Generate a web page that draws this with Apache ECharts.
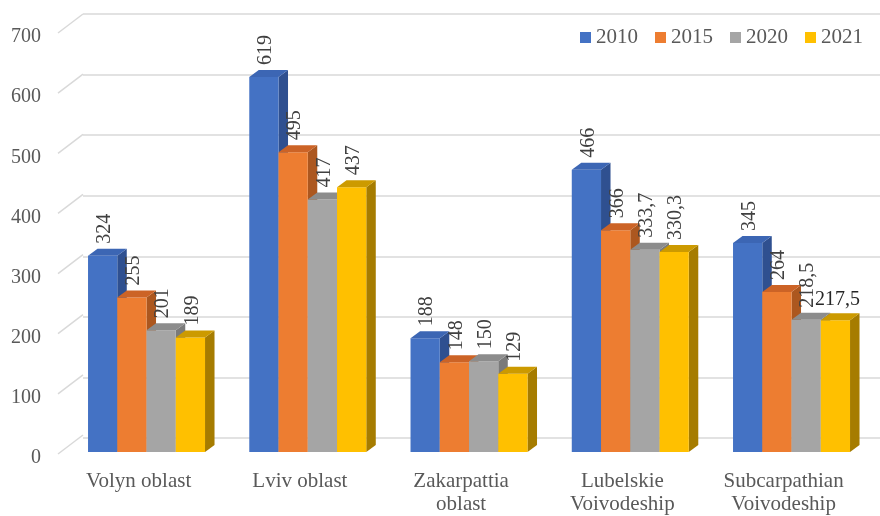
<!DOCTYPE html>
<html>
<head>
<meta charset="utf-8">
<script src="https://cdn.jsdelivr.net/npm/echarts@6/dist/echarts.min.js"></script>
<style>
  html, body { margin: 0; padding: 0; background: #ffffff; }
  #chart { width: 880px; height: 516px; }
</style>
</head>
<body>
<div id="chart"></div>
<script>
// Regions and yearly values
const categories = ['Volyn oblast', 'Lviv oblast', 'Zakarpattia\noblast', 'Lubelskie\nVoivodeship', 'Subcarpathian\nVoivodeship'];
const years = ['2010', '2015', '2020', '2021'];
const values2010 = [324, 619, 188, 466, 345];
const values2015 = [255, 495, 148, 366, 264];
const values2020 = [201, 417, 150, 333.7, 218.5];
const values2021 = [189, 437, 129, 330.3, 217.5];
const yTicks = [0, 100, 200, 300, 400, 500, 600, 700];

const seriesValues = [values2010, values2015, values2020, values2021];

// Face shading for the pseudo-3D columns
const frontColors = ['#4472C4', '#ED7D31', '#A5A5A5', '#FFC000'];
const topColors   = ['#3C66B4', '#CC6326', '#8C8C8C', '#CC9A00'];
const sideColors  = ['#2F5090', '#AC571F', '#7A7A7A', '#A67C00'];

const FONT = "'Liberation Serif', 'Times New Roman', serif";
const DEPTH_X = 9.5, DEPTH_Y = -7;       // column depth offset
const GROUP_FRACTION = 0.7256;            // share of the band covered by a cluster
const FLOOR_DX = 25, FLOOR_DY = -19;      // front floor edge to back wall
const flatLabels = { '3-4': true };       // labels drawn horizontally (series-category)

const fmt = v => String(v).replace('.', ',');

function makeBarRenderer(s) {
  return function (params, api) {
    const cat = api.value(0);
    const val = api.value(1);
    const base = api.coord([cat, 0]);
    const top = api.coord([cat, val]);
    const band = api.size([1, 0])[0];
    const bw = band * GROUP_FRACTION / 4;
    const x0 = base[0] - 2 * bw + s * bw;
    const x1 = x0 + bw;
    const ty = top[1], by = base[1];
    const children = [
      { type: 'polygon', shape: { points: [[x1, ty], [x1 + DEPTH_X, ty + DEPTH_Y], [x1 + DEPTH_X, by + DEPTH_Y], [x1, by]] },
        style: { fill: sideColors[s] } },
      { type: 'rect', shape: { x: x0, y: ty, width: bw, height: by - ty },
        style: { fill: frontColors[s] } },
      { type: 'polygon', shape: { points: [[x0, ty], [x1, ty], [x1 + DEPTH_X, ty + DEPTH_Y], [x0 + DEPTH_X, ty + DEPTH_Y]] },
        style: { fill: topColors[s] } }
    ];
    const cx = x0 + bw / 2 + 2;
    const labelY = ty + DEPTH_Y - 5;
    if (flatLabels[s + '-' + cat]) {
      children.push({ type: 'text', x: cx, y: labelY + 1,
        style: { text: fmt(val), fill: '#262626', font: '20px ' + FONT, align: 'center', verticalAlign: 'bottom' } });
    } else {
      children.push({ type: 'text', x: cx, y: labelY, rotation: Math.PI / 2,
        style: { text: fmt(val), fill: '#404040', font: '20px ' + FONT, align: 'left', verticalAlign: 'middle' } });
    }
    return { type: 'group', children };
  };
}

const chart = echarts.init(document.getElementById('chart'), null, { renderer: 'canvas' });

const series = years.map((y, s) => ({
  name: y,
  type: 'custom',
  xAxisIndex: 2,
  yAxisIndex: 2,
  z: 5 + s,
  clip: false,
  itemStyle: { color: frontColors[s] },
  encode: { x: 0, y: 1 },
  data: seriesValues[s].map((v, i) => [i, v]),
  renderItem: makeBarRenderer(s)
}));

// diagonal floor/wall edges for each tick
series.unshift({
  name: 'edges',
  type: 'custom',
  xAxisIndex: 1,
  yAxisIndex: 1,
  z: 1,
  clip: false,
  silent: true,
  encode: { x: 0, y: 1 },
  data: yTicks.map(v => [0, v]),
  renderItem: function (params, api) {
    const p = api.coord([0, api.value(1)]);
    const x = params.coordSys.x;
    return { type: 'line', shape: { x1: x, y1: p[1], x2: x + FLOOR_DX, y2: p[1] + FLOOR_DY },
      style: { stroke: '#d9d9d9', lineWidth: 1.5 } };
  }
});

chart.setOption({
  animation: false,
  backgroundColor: '#ffffff',
  grid: [
    { left: 83, right: 0, top: 14, bottom: 78 },
    { left: 58, right: 15.75, top: 33, bottom: 59 },
    { left: 65.9, right: 7.85, top: 28, bottom: 64 }
  ],
  legend: {
    data: years,
    right: 12,
    top: 22,
    itemWidth: 11,
    itemHeight: 11,
    itemGap: 17,
    icon: 'rect',
    textStyle: { fontFamily: FONT, fontSize: 21, color: '#595959' }
  },
  xAxis: [
    { gridIndex: 0, type: 'value', show: false, min: 0, max: 1 },
    { gridIndex: 1, type: 'category', data: categories,
      axisLine: { show: false }, axisTick: { show: false },
      axisLabel: { fontFamily: FONT, fontSize: 21, color: '#595959', margin: 16, lineHeight: 23, interval: 0 } },
    { gridIndex: 2, type: 'category', data: categories, show: false }
  ],
  yAxis: [
    { gridIndex: 0, type: 'value', min: 0, max: 700, interval: 100,
      axisLine: { show: false }, axisTick: { show: false }, axisLabel: { show: false },
      splitLine: { lineStyle: { color: '#d9d9d9', width: 1.5 } } },
    { gridIndex: 1, type: 'value', min: 0, max: 700, interval: 100,
      axisLine: { show: false }, axisTick: { show: false }, splitLine: { show: false },
      axisLabel: {
        margin: 17,
        formatter: '{t|{value}}',
        rich: { t: { fontFamily: FONT, fontSize: 20, color: '#595959', padding: [8, 0, 0, 0] } }
      } },
    { gridIndex: 2, type: 'value', min: 0, max: 700, interval: 100, show: false, splitLine: { show: false } }
  ],
  series: series
});
</script>
</body>
</html>
